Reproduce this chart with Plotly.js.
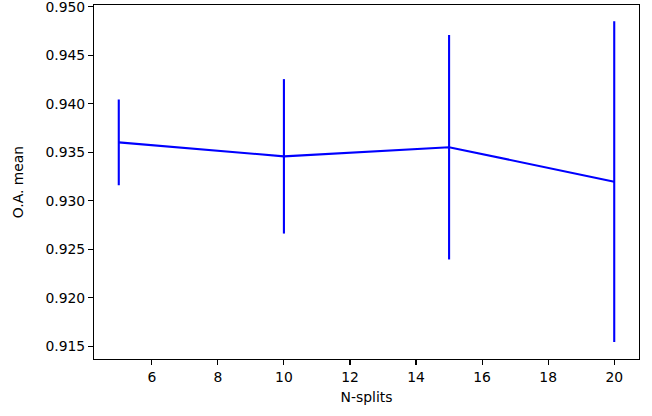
<!DOCTYPE html>
<html>
<head>
<meta charset="utf-8">
<script src="https://cdn.plot.ly/plotly-3.0.1.min.js"></script>
<style>
html,body{margin:0;padding:0;background:#fff;}
#chart{width:652px;height:416px;}
</style>
</head>
<body>
<div id="chart"></div>
<script>
const nSplits = [5, 10, 15, 20];
const oaMean = [0.93602, 0.93458, 0.93552, 0.93197];
const oaErr = [0.00442, 0.00796, 0.01157, 0.01653];
const xTitle = "N-splits";
const yTitle = "O.A. mean";

const font = {family: "DejaVu Sans, sans-serif", size: 13.9, color: "#000"};

const trace = {
  x: nSplits,
  y: oaMean,
  type: "scatter",
  mode: "lines",
  line: {color: "#0000ff", width: 2.1},
  error_y: {type: "data", array: oaErr, visible: true, color: "#0000ff", thickness: 2.1, width: 0},
  showlegend: false,
  hoverinfo: "skip"
};

const axisCommon = {
  showline: true, mirror: true, linecolor: "#000", linewidth: 1.1,
  ticks: "outside", ticklen: 4.9, tickwidth: 1.1, tickcolor: "#000",
  showgrid: false, zeroline: false, tickfont: font, ticklabeloverflow: "allow"
};

const layout = {
  width: 652, height: 416,
  margin: {l: 94, r: 13, t: 5, b: 57, pad: 0},
  paper_bgcolor: "#fff", plot_bgcolor: "#fff",
  font: font,
  xaxis: Object.assign({}, axisCommon, {
    range: [4.25, 20.75], tick0: 0, dtick: 2,
    title: {text: xTitle, font: font, standoff: 8}
  }),
  yaxis: Object.assign({}, axisCommon, {
    range: [0.91369, 0.95018], tick0: 0.915, dtick: 0.005, tickformat: ".3f",
    title: {text: yTitle, font: font, standoff: 18}
  })
};

Plotly.newPlot("chart", [trace], layout, {staticPlot: true, displayModeBar: false});
</script>
</body>
</html>
